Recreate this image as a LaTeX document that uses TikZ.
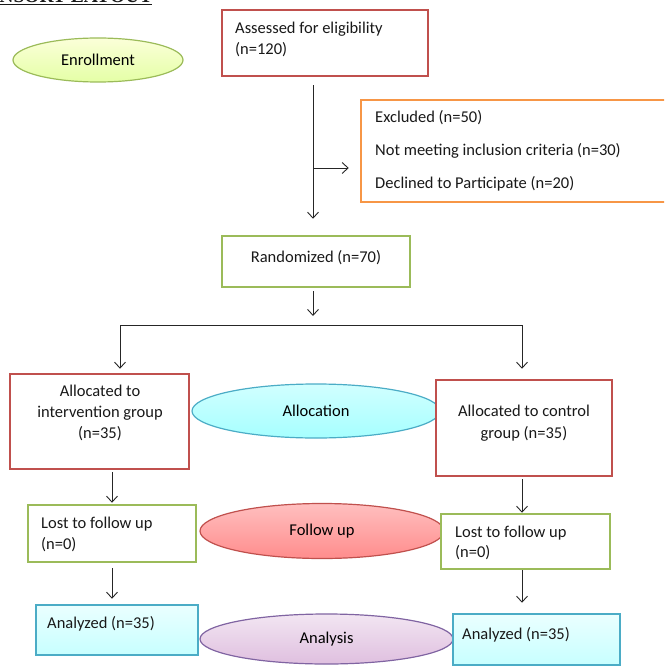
\documentclass[tikz,border=0pt]{standalone}
\usepackage{fontspec}
\setmainfont{Carlito}
\newfontfamily\titlefont{Liberation Serif}
\usetikzlibrary{positioning, arrows.meta, shapes.geometric}

\definecolor{boxred}{HTML}{C0504D}
\definecolor{boxgreen}{HTML}{9BBB59}
\definecolor{boxorange}{HTML}{F79646}
\definecolor{boxblue}{HTML}{4BACC6}
\definecolor{boxpurple}{HTML}{8064A2}

\tikzset{
  box/.style={draw, line width=2.5pt, rectangle, inner sep=0pt, fill=white},
  redbox/.style={box, draw=boxred},
  greenbox/.style={box, draw=boxgreen},
  orangebox/.style={box, draw=boxorange},
  bluebox/.style={box, draw=boxblue, top color=cyan!8, bottom color=cyan!22},
  oval/.style={ellipse, line width=1.2pt, inner sep=0pt},
  txt/.style={inner sep=0pt, text=black!90},
  arr/.style={draw=black!85, line width=0.9pt, -{Straight Barb[length=6pt,width=11pt]}},
  ln/.style={draw=black!85, line width=0.9pt}
}

\begin{document}
\begin{tikzpicture}[x=1pt, y=-1pt, every node/.style={font=\fontsize{16.5}{21}\selectfont}]

  \useasboundingbox (0,0) rectangle (664,666);
  \clip (0,0) rectangle (664,666);

  % title (cut off at the page edge)
  \node[txt, anchor=base west, font=\titlefont\fontsize{19.5}{22}\selectfont\bfseries]
    (title) at (-30,3) {\underline{CONSORT LAYOUT}};

  % ======================
  % Side ellipses
  % ======================
  \node[oval, draw=boxgreen, top color=green!10!yellow!15, bottom color=green!30!yellow!35,
        minimum width=170, minimum height=44] (enrol) at (98,60) {Enrollment};
  \node[oval, draw=boxblue, top color=cyan!18, bottom color=cyan!35,
        minimum width=248, minimum height=54] (allocation) at (316,411) {Allocation};
  \node[oval, draw=boxred, top color=red!25, bottom color=red!45,
        minimum width=244, minimum height=55] (follow) at (322,531) {Follow up};
  \node[oval, draw=boxpurple, top color=violet!10, bottom color=violet!25,
        minimum width=253, minimum height=50] (analysis) at (326.5,639) {Analysis};

  % ======================
  % Boxes
  % ======================
  \node[redbox, minimum width=206, minimum height=66] (assess) at (325,43) {};
  \node[orangebox, minimum width=329, minimum height=102] (excl) at (525.5,151) {};
  \node[greenbox, minimum width=188, minimum height=51] (rand) at (316,261.5) {};

  \node[redbox, minimum width=179, minimum height=95] (allocL) at (99.5,421.5) {};
  \node[redbox, minimum width=176, minimum height=96] (allocR) at (524,428) {};

  \node[greenbox, minimum width=168, minimum height=57] (lostL) at (112,533.5) {};
  \node[greenbox, minimum width=169, minimum height=55] (lostR) at (525.5,541.5) {};

  \node[bluebox, minimum width=162, minimum height=50] (anaL) at (117,630) {};
  \node[bluebox, minimum width=167, minimum height=51] (anaR) at (536.5,639.5) {};

  % box texts
  \node[txt, anchor=west, align=left] (assesst) at (235,39.5)
    {Assessed for eligibility\\(n=120)};
  \node[txt, anchor=west, align=left, font=\fontsize{16.5}{33}\selectfont] (exclt) at (375,151)
    {Excluded (n=50)\\Not meeting inclusion criteria (n=30)\\Declined to Participate (n=20)};
  \node[txt] (randt) at (316,258) {Randomized (n=70)};
  \node[txt, align=center] (allocLt) at (100,412.5)
    {Allocated to\\intervention group\\(n=35)};
  \node[txt, align=center, font=\fontsize{16.5}{22}\selectfont] (allocRt) at (524,423.5)
    {Allocated to control\\group (n=35)};
  \node[txt, anchor=west, align=left] (lostLt) at (41,534) {Lost to follow up\\(n=0)};
  \node[txt, anchor=west, align=left, font=\fontsize{16.5}{20}\selectfont] (lostRt) at (455,543)
    {Lost to follow up\\(n=0)};
  \node[txt, anchor=west] (anaLt) at (47,624) {Analyzed (n=35)};
  \node[txt, anchor=west] (anaRt) at (462,635) {Analyzed (n=35)};

  % ======================
  % Connectors
  % ======================
  \coordinate (split) at (313,168);
  \coordinate (forkL) at (120,325);
  \coordinate (forkR) at (522,325);

  \draw[arr, shorten <=8pt, shorten >=16pt] (assess.south -| split) -- (rand.north -| split);
  \draw[arr, shorten >=11pt] (split) -- (excl.west |- split);
  \draw[arr, shorten <=3pt, shorten >=9pt] (rand.south -| split) -- (split |- forkL);

  \draw[ln] (forkL) -- (forkR);
  \draw[arr, shorten >=4pt] (forkL) -- (forkL |- allocL.north);
  \draw[arr, shorten >=10pt] (forkR) -- (forkR |- allocR.north);

  \draw[arr, shorten <=2pt, shorten >=1pt] (allocL.south -| lostL) -- (lostL.north);
  \draw[arr, shorten <=2pt] (allocR.south -| forkR) -- (lostR.north -| forkR);

  \draw[arr, shorten <=5pt, shorten >=5pt] (lostL.south) -- (anaL.north -| lostL);
  \draw[arr, shorten >=10pt] (lostR.south -| forkR) -- (anaR.north -| forkR);

\end{tikzpicture}
\end{document}
